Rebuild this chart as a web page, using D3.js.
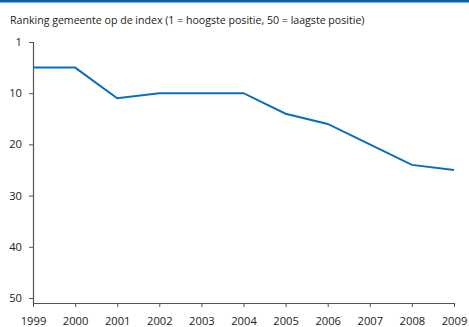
<!DOCTYPE html>
<html><head><meta charset="utf-8">
<script src="https://cdn.jsdelivr.net/npm/d3@7"></script>
<style>body{margin:0;background:#fff}svg{display:block}text{font-family:"Open Sans","Noto Sans",sans-serif;fill:#222}</style>
</head><body>
<script>
const years = [1999,2000,2001,2002,2003,2004,2005,2006,2007,2008,2009];
const ranking = [5,5,11,10,10,10,14,16,20,24,25];
const yTickValues = [0,10,20,30,40,50];
const yTickLabels = ["1","10","20","30","40","50"];
const title = "Ranking gemeente op de index (1 = hoogste positie, 50 = laagste positie)";

const W=469,H=327;
const svg=d3.select("body").append("svg").attr("width",W).attr("height",H);
svg.append("rect").attr("x",0).attr("y",0).attr("width",W).attr("height",2.5).attr("fill","#0068b3");
svg.append("text").attr("x",10).attr("y",24).attr("font-size",10.6).text(title);

const x=d3.scaleLinear().domain([1999,2009]).range([33,454]);
const y=d3.scaleLinear().domain([0,50]).range([42,298]);
const axisY=303;

const gy=svg.append("g").attr("transform","translate(33,0)")
  .call(d3.axisLeft(y).tickValues(yTickValues).tickFormat((d,i)=>yTickLabels[i]).tickSize(4).tickPadding(7).tickSizeOuter(0));
gy.select(".domain").attr("d",`M0.5,${y(0)}V${axisY}`);
const gx=svg.append("g").attr("transform",`translate(0,${axisY})`)
  .call(d3.axisBottom(x).tickValues(years).tickFormat(d3.format("d")).tickSize(4).tickPadding(10).tickSizeOuter(0));
[gx,gy].forEach(g=>{
  g.selectAll(".domain").attr("stroke","#555").attr("stroke-width",1.2);
  g.selectAll(".tick line").attr("stroke","#555");
  g.selectAll("text").attr("font-size",11.2).attr("fill","#222").attr("font-family",'"Open Sans","Noto Sans",sans-serif');
});
gx.select(".domain").attr("d",`M33,0.5H454`);

svg.append("path").datum(years.map((yr,i)=>[yr,ranking[i]]))
  .attr("fill","none").attr("stroke","#0a6fb8").attr("stroke-width",2)
  .attr("d",d3.line().x(d=>x(d[0])).y(d=>y(d[1])));
</script>
</body></html>
